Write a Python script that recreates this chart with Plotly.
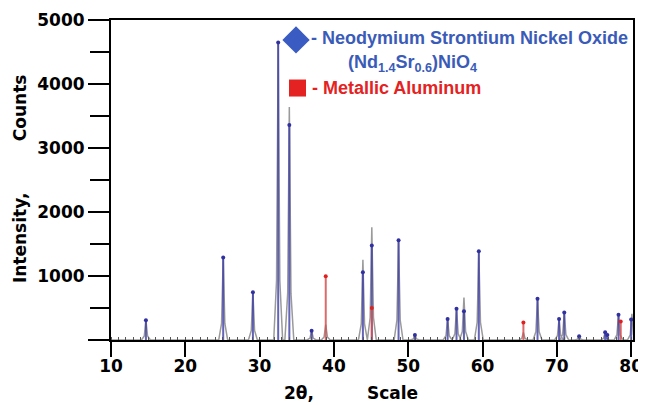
import plotly.graph_objects as go

# ---------------- data ----------------
# measured pattern: peak positions (2-theta) and intensities (counts)
obs_pos = [14.7, 25.1, 29.1, 32.5, 34.0, 37.0, 38.9, 43.9, 45.1, 48.7, 50.9,
           55.3, 56.5, 57.5, 59.5, 65.5, 67.4, 70.3, 71.0, 73.0, 76.5, 78.3, 80.1]
obs_int = [310, 1290, 745, 4650, 3640, 145, 240, 1255, 1760, 1560, 80,
           330, 490, 665, 1385, 120, 645, 330, 430, 70, 120, 395, 410]

# reference sticks: Neodymium Strontium Nickel Oxide (Nd1.4Sr0.6)NiO4
nso_pos = [14.7, 25.1, 29.1, 32.5, 34.0, 37.0, 43.9, 45.1, 48.7, 50.9, 55.3,
           56.5, 57.5, 59.5, 67.4, 70.3, 71.0, 73.0, 76.5, 76.8, 78.3, 80.0]
nso_int = [310, 1290, 745, 4650, 3360, 145, 1060, 1475, 1560, 80, 330,
           490, 450, 1385, 645, 330, 430, 60, 120, 80, 395, 320]

# reference sticks: Metallic Aluminum
al_pos = [38.9, 45.1, 65.5, 78.6]
al_int = [995, 500, 275, 290]

x_ticks = [10, 20, 30, 40, 50, 60, 70, 80]
y_ticks = [0, 1000, 2000, 3000, 4000, 5000]

# ---------------- build traces ----------------
HW_BASE = 0.6
HW_MID = 0.22
px, py = [10.0], [0.0]
for p, i in zip(obs_pos, obs_int):
    px += [p - HW_BASE, p - HW_MID, p, p + HW_MID, p + HW_BASE]
    py += [0, 0.2 * i, i, 0.2 * i, 0]
px.append(80.25)
py.append(0)

fig = go.Figure()
fig.add_trace(go.Scatter(x=px, y=py, mode="lines",
                         line=dict(color="#9a9a9a", width=1.5),
                         hoverinfo="skip", showlegend=False))


def sticks(pos, inten, color, dot):
    xs, ys = [], []
    for p, i in zip(pos, inten):
        xs += [p, p, None]
        ys += [0, i, None]
    fig.add_trace(go.Scatter(x=xs, y=ys, mode="lines",
                             line=dict(color=color, width=2),
                             showlegend=False, hoverinfo="skip"))
    fig.add_trace(go.Scatter(x=pos, y=inten, mode="markers",
                             marker=dict(color=dot, size=4),
                             showlegend=False))


sticks(nso_pos, nso_int, "rgba(60,60,165,0.8)", "#3030a0")
sticks(al_pos, al_int, "rgba(215,80,80,0.85)", "#e02020")

# legend symbols
BLUE = "#3a5cb8"
RED = "#e42222"
fig.add_trace(go.Scatter(x=[34.9], y=[4688], mode="markers",
                         marker=dict(symbol="diamond", size=21, color="#3a5cc2"),
                         showlegend=False))
fig.add_trace(go.Scatter(x=[35.1], y=[3937], mode="markers",
                         marker=dict(symbol="square", size=17, color=RED),
                         showlegend=False))

LFONT = "Liberation Sans, Arial, sans-serif"
ann = [
    dict(x=36.67, y=4719, text="<b>- Neodymium Strontium Nickel Oxide</b>",
         xanchor="left", font=dict(family=LFONT, size=18, color=BLUE)),
    dict(x=50.54, y=4328, text="<b>(Nd<sub>1.4</sub>Sr<sub>0.6</sub>)NiO<sub>4</sub></b>",
         xanchor="center", font=dict(family=LFONT, size=18, color=BLUE)),
    dict(x=36.8, y=3937, text="<b>- Metallic Aluminum</b>",
         xanchor="left", font=dict(family=LFONT, size=18, color=RED)),
]
AFONT = dict(family="DejaVu Sans, sans-serif", size=17, color="black")
ann += [
    dict(x=-0.174, y=0.319, xref="paper", yref="paper", text="<b>Intensity,</b>",
         textangle=-90, font=AFONT, xanchor="center", yanchor="middle"),
    dict(x=-0.174, y=0.725, xref="paper", yref="paper", text="<b>Counts</b>",
         textangle=-90, font=AFONT, xanchor="center", yanchor="middle"),
    dict(x=0.36, y=-0.165, xref="paper", yref="paper", text="<b>2θ,</b>",
         font=AFONT, xanchor="center", yanchor="middle"),
    dict(x=0.54, y=-0.165, xref="paper", yref="paper", text="<b>Scale</b>",
         font=AFONT, xanchor="center", yanchor="middle"),
]
for a in ann:
    a.setdefault("showarrow", False)
fig.update_layout(annotations=ann)

# page body has an 8px margin; the figure is sized and offset to compensate
fig.update_layout(
    width=638, height=397,
    margin=dict(l=103, r=13, t=12, b=65),
    paper_bgcolor="white", plot_bgcolor="white",
    font=dict(family="DejaVu Sans, sans-serif", size=17, color="black"),
    xaxis=dict(range=[10, 80.25], tickvals=x_ticks,
               ticktext=[f"<b>{v}</b>" for v in x_ticks],
               automargin=False, ticklabelstandoff=-5,
               ticks="outside", ticklen=15, tickwidth=2, tickcolor="black",
               showline=True, linewidth=2, linecolor="black", mirror=True,
               showgrid=False, zeroline=False,
               minor=dict(dtick=1, ticks="inside", ticklen=3,
                          tickcolor="#555", tickwidth=1)),
    yaxis=dict(range=[0, 5000], tickvals=y_ticks,
               ticktext=["" if v == 0 else f"<b>{v}</b>" for v in y_ticks],
               automargin=False,
               ticks="outside", ticklen=21, tickwidth=2, tickcolor="black",
               showline=True, linewidth=2, linecolor="black", mirror=True,
               showgrid=False, zeroline=False,
               minor=dict(dtick=500, ticks="outside", ticklen=19,
                          tickcolor="black", tickwidth=2)),
)

fig.write_html("out.html")
